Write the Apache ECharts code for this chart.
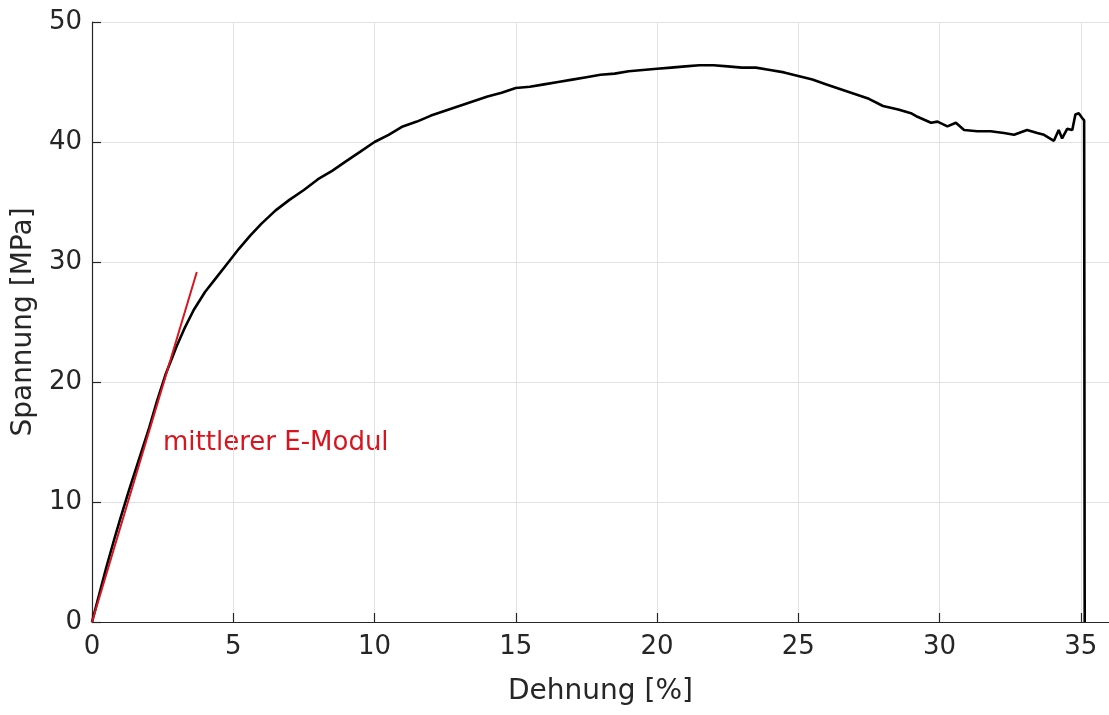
<!DOCTYPE html>
<html>
<head>
<meta charset="utf-8">
<script src="https://cdn.jsdelivr.net/npm/echarts@6/dist/echarts.min.js"></script>
<style>
html,body{margin:0;padding:0;background:#fff;}
#chart{width:1109px;height:715px;}
</style>
</head>
<body>
<div id="chart"></div>
<script>
// Measured stress-strain curve (Dehnung [%], Spannung [MPa])
const strain = [0,0.2,0.5,0.8,1.0,1.3,1.6,2.0,2.3,2.6,3.0,3.3,3.6,4.0,4.4,4.8,5.2,5.6,6.0,6.5,7.0,7.5,8.0,8.5,9.0,9.5,10.0,10.5,11.0,11.5,12.0,12.5,13.0,13.5,14.0,14.5,15.0,15.5,16.0,16.5,17.0,17.5,18.0,18.5,19.0,19.5,20.0,20.5,21.0,21.5,22.0,22.5,23.0,23.5,24.0,24.5,25.0,25.5,26.0,26.5,27.0,27.5,28.0,28.54,28.99,29.22,29.7,29.93,30.28,30.58,30.87,31.34,31.81,32.28,32.64,33.1,33.46,33.7,34.05,34.22,34.34,34.52,34.7,34.81,34.93,35.05,35.12,35.14];
const stress = [0,1.8,4.5,7.0,8.6,10.9,13.1,16.0,18.4,20.6,23.0,24.6,26.0,27.5,28.7,29.9,31.1,32.2,33.2,34.3,35.2,36.0,36.9,37.6,38.4,39.2,40.0,40.6,41.3,41.7,42.2,42.6,43.0,43.4,43.8,44.1,44.5,44.6,44.8,45.0,45.2,45.4,45.6,45.7,45.9,46.0,46.1,46.2,46.3,46.4,46.4,46.3,46.2,46.2,46.0,45.8,45.5,45.2,44.8,44.4,44.0,43.6,43.0,42.7,42.4,42.1,41.6,41.7,41.3,41.6,41.0,40.9,40.9,40.75,40.6,41.0,40.75,40.6,40.1,41.0,40.3,41.1,41.0,42.3,42.4,42.0,41.8,0];
// Mean Young's modulus line
const modulusStrain = [0, 3.71];
const modulusStress = [0, 29.17];
const xTicks = [0,5,10,15,20,25,30,35];
const yTicks = [0,10,20,30,40,50];
const modulusLabel = 'mittlerer E-Modul';

const curve = strain.map((x,i)=>[x, stress[i]]);
const modLine = modulusStrain.map((x,i)=>[x, modulusStress[i]]);
const font = 'DejaVu Sans';
const dark = '#262626';

const chart = echarts.init(document.getElementById('chart'), null, {renderer:'canvas'});
chart.setOption({
  animation:false,
  backgroundColor:'#fff',
  grid:{left:92, right:-2, top:22, bottom:93, containLabel:false},
  xAxis:{
    type:'value', min:0, max:36, interval:5,
    name:'Dehnung [%]', nameLocation:'middle', nameGap:56,
    nameTextStyle:{fontFamily:font, fontSize:28, color:dark},
    axisLine:{show:true, onZero:false, lineStyle:{color:dark, width:1.2}},
    axisTick:{show:true, inside:true, length:9, lineStyle:{color:dark, width:1.2}},
    axisLabel:{fontFamily:font, fontSize:26, color:dark, margin:12, showMaxLabel:false,
      formatter:v=> xTicks.includes(v) ? String(v) : ''},
    splitLine:{show:true, lineStyle:{color:'#e2e2e2', width:1}}
  },
  yAxis:{
    type:'value', min:0, max:50, interval:10,
    name:'Spannung [MPa]', nameLocation:'middle', nameGap:50,
    nameTextStyle:{fontFamily:font, fontSize:28, color:dark},
    axisLine:{show:true, onZero:false, lineStyle:{color:dark, width:1.2}},
    axisTick:{show:true, inside:true, length:9, lineStyle:{color:dark, width:1.2}},
    axisLabel:{fontFamily:font, fontSize:26, color:dark, margin:10,
      formatter:v=> yTicks.includes(v) ? String(v) : ''},
    splitLine:{show:true, lineStyle:{color:'#e2e2e2', width:1}}
  },
  series:[
    {type:'line', data:curve, showSymbol:false, symbol:'none', lineStyle:{color:'#000', width:2.6}, z:3},
    {type:'line', data:modLine, showSymbol:false, symbol:'none', lineStyle:{color:'#d9141e', width:2}, z:4}
  ],
  graphic:[
    {type:'text', left:163, top:430, style:{text:modulusLabel, fill:'#d9141e', font:'26px "DejaVu Sans"'}}
  ]
});
</script>
</body>
</html>
